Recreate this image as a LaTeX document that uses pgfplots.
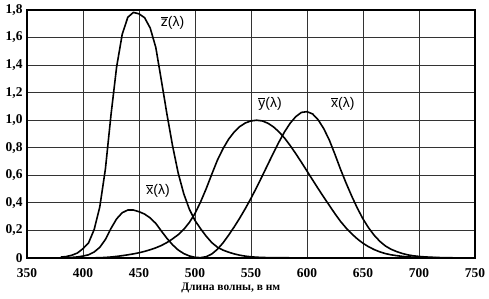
\documentclass[border=0pt]{standalone}
\usepackage{pgfplots}
\pgfplotsset{compat=1.18}
\usepackage{pgfplotstable}
\usepackage{fontspec}
\setmainfont{Liberation Serif}
\setsansfont{Liberation Sans}

\pgfplotstableread{
lam x y z
380 0.001368 0.000039 0.006450
385 0.002236 0.000064 0.010550
390 0.004243 0.000120 0.020050
395 0.007650 0.000217 0.036210
400 0.014310 0.000396 0.067850
405 0.023190 0.000640 0.110200
410 0.043510 0.001210 0.207400
415 0.077630 0.002180 0.371300
420 0.134380 0.004000 0.645600
425 0.214770 0.007300 1.039050
430 0.283900 0.011600 1.385600
435 0.328500 0.016840 1.622960
440 0.348280 0.023000 1.747060
445 0.348060 0.029800 1.782600
450 0.336200 0.038000 1.772110
455 0.318700 0.048000 1.744100
460 0.290800 0.060000 1.669200
465 0.251100 0.073900 1.528100
470 0.195360 0.090980 1.287640
475 0.142100 0.112600 1.041900
480 0.095640 0.139020 0.812950
485 0.057950 0.169300 0.616200
490 0.032010 0.208020 0.465180
495 0.014700 0.258600 0.353300
500 0.004900 0.323000 0.272000
505 0.002400 0.407300 0.212300
510 0.009300 0.503000 0.158200
515 0.029100 0.608200 0.111700
520 0.063270 0.710000 0.078250
525 0.109600 0.793200 0.057250
530 0.165500 0.862000 0.042160
535 0.225750 0.914850 0.029840
540 0.290400 0.954000 0.020300
545 0.359700 0.980300 0.013400
550 0.433450 0.994950 0.008750
555 0.512050 1.000000 0.005750
560 0.594500 0.995000 0.003900
565 0.678400 0.978600 0.002750
570 0.762100 0.952000 0.002100
575 0.842500 0.915400 0.001800
580 0.916300 0.870000 0.001650
585 0.978600 0.816300 0.001400
590 1.026300 0.757000 0.001100
595 1.056700 0.694900 0.001000
600 1.062200 0.631000 0.000800
605 1.045600 0.566800 0.000600
610 1.002600 0.503000 0.000340
615 0.938400 0.441200 0.000240
620 0.854450 0.381000 0.000190
625 0.751400 0.321000 0.000100
630 0.642400 0.265000 0.000050
635 0.541900 0.217000 0.000030
640 0.447900 0.175000 0.000020
645 0.360800 0.138200 0.000010
650 0.283500 0.107000 0
655 0.218700 0.081600 0
660 0.164900 0.061000 0
665 0.121200 0.044580 0
670 0.087400 0.032000 0
675 0.063600 0.023200 0
680 0.046770 0.017000 0
685 0.032900 0.011920 0
690 0.022700 0.008210 0
695 0.015840 0.005723 0
700 0.011359 0.004102 0
705 0.008111 0.002929 0
710 0.005790 0.002091 0
715 0.004109 0.001484 0
720 0.002899 0.001047 0
725 0.002049 0.000740 0
730 0.001440 0.000520 0
735 0.001000 0.000361 0
740 0.000690 0.000249 0
745 0.000476 0.000172 0
750 0.000332 0.000120 0
}\cmf

\newcommand{\clab}[1]{{\sffamily\fontsize{14}{16}\selectfont$\overline{\mbox{#1}}$(λ)}}

\begin{document}
\begin{tikzpicture}
\useasboundingbox (0,0) rectangle (489bp,299bp);
\begin{axis}[
  scale only axis, width=448bp, height=248bp,
  at={(27bp,41bp)}, anchor=south west,
  xmin=350, xmax=750, ymin=0, ymax=1.8,
  xtick={350,400,450,500,550,600,650,700,750},
  ytick={0,0.2,0.4,0.6,0.8,1.0,1.2,1.4,1.6,1.8},
  yticklabels={0,{0,2},{0,4},{0,6},{0,8},{1,0},{1,2},{1,4},{1,6},{1,8}},
  /pgf/number format/assume math mode=true,
  grid=major,
  grid style={black!80, line width=1bp},
  major tick length=0pt,
  axis line style={line width=2.6bp},
  tick label style={font=\fontsize{13.5}{14}\selectfont\bfseries},
  xticklabel style={yshift=-7bp},
  yticklabel style={xshift=-1bp},
  xlabel={Длина волны, в нм},
  xlabel style={font=\fontsize{11.5}{12}\selectfont\bfseries, at={(axis description cs:0.455,0)}, anchor=north, yshift=-21bp},
]
\addplot[black, line width=1.6bp] table[x=lam, y=z] {\cmf};
\addplot[black, line width=1.6bp] table[x=lam, y=y] {\cmf};
\addplot[black, line width=1.6bp] table[x=lam, y=x] {\cmf};
\node at (axis cs:480,1.71) {\clab{z}};
\node at (axis cs:567,1.12) {\clab{y}};
\node at (axis cs:632,1.12) {\clab{x}};
\node at (axis cs:467,0.49) {\clab{x}};
\end{axis}
\end{tikzpicture}
\end{document}
